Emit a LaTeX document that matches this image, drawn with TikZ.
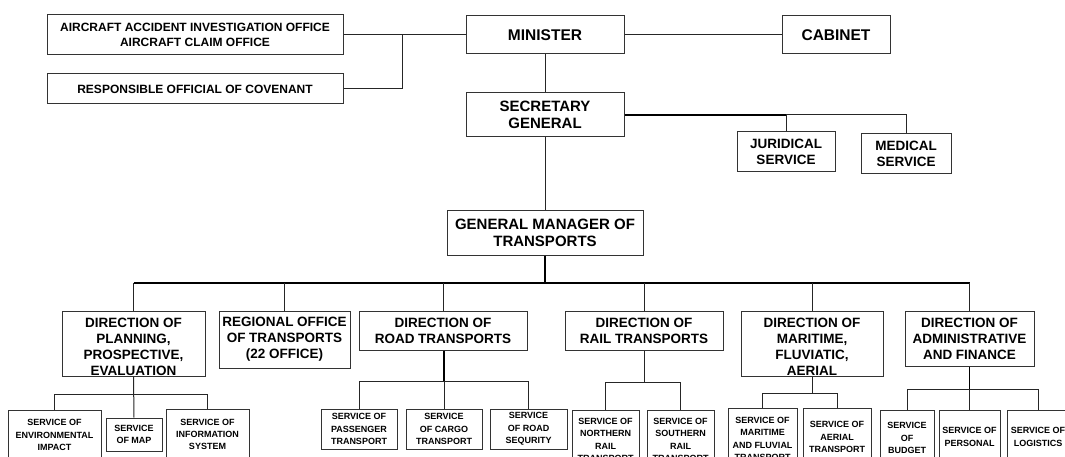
\documentclass[tikz,border=0pt]{standalone}
\usepackage{fontspec}
\setmainfont{Liberation Sans}
\usetikzlibrary{calc}

% box frame plus a separately placed text node (text may overrun the frame)
\newcommand\orgbox[8][0]{%
  \node[frame, minimum width={#5-#3}, minimum height={#6-#4}] (#2) at ({(#3+#5)/2},{(#4+#6)/2}) {};
  \node[#7] (#2-t) at ([yshift=-#1pt]#2.center) {#8};
}

% branch: bus at the level of coordinate #1, from node #2 over to node #3
\newcommand\branch[3]{%
  \draw[wire] (#2.north) -- (#2.north |- #1) -- (#3.north |- #1) -- (#3.north);
}

\begin{document}
\begin{tikzpicture}[x=1pt, y=-1pt,
  frame/.style={draw=black!80, line width=1pt, inner sep=0pt, fill=white},
  wire/.style={draw=black!85, line width=1pt},
  heavy/.style={draw=black, line width=1.7pt},
  bigtxt/.style={inner sep=0pt, align=center, font=\fontsize{15.5}{17.5}\selectfont\bfseries},
  gmtxt/.style={inner sep=0pt, align=center, font=\fontsize{15}{17.5}\selectfont\bfseries},
  midtxt/.style={inner sep=0pt, align=center, font=\fontsize{13.5}{16}\selectfont\bfseries},
  toptxt/.style={inner sep=0pt, align=center, font=\fontsize{12}{14.3}\selectfont\bfseries},
  svctxt/.style={inner sep=0pt, align=center, font=\fontsize{9}{12.3}\selectfont\bfseries}]

\fill[white] (0,0) rectangle (1065,457);
\useasboundingbox (0,0) rectangle (1065,457);
\clip (0,0) rectangle (1065,457);

% top level
\orgbox{aco}{47}{15}{343}{55}{toptxt}{AIRCRAFT ACCIDENT INVESTIGATION OFFICE\\AIRCRAFT CLAIM OFFICE}
\orgbox{resp}{47}{74}{343}{104}{toptxt}{RESPONSIBLE OFFICIAL OF COVENANT}
\orgbox{minister}{466}{16}{624}{54}{bigtxt}{MINISTER}
\orgbox{cabinet}{782}{16}{890}{54}{bigtxt}{CABINET}
\orgbox{secretary}{466}{93}{624}{137}{gmtxt}{SECRETARY\\GENERAL}
\orgbox{juridical}{737}{132}{835}{172}{midtxt}{JURIDICAL\\SERVICE}
\orgbox{medical}{861}{134}{951}{174}{midtxt}{MEDICAL\\SERVICE}
\orgbox{gm}{447}{211}{643}{255}{gmtxt}{GENERAL MANAGER OF\\TRANSPORTS}

% directions
\orgbox[3.5]{plan}{62}{311}{205}{376}{midtxt}{DIRECTION OF\\PLANNING,\\PROSPECTIVE,\\EVALUATION}
\orgbox{regional}{219}{311}{350}{368}{midtxt}{REGIONAL OFFICE\\OF TRANSPORTS\\(22 OFFICE)}
\orgbox{road}{359}{311}{527}{350}{midtxt}{DIRECTION OF\\ROAD TRANSPORTS}
\orgbox{rail}{565}{311}{723}{350}{midtxt}{DIRECTION OF\\RAIL TRANSPORTS}
\orgbox[3.5]{maritime}{741}{311}{883}{376}{midtxt}{DIRECTION OF\\MARITIME,\\FLUVIATIC,\\AERIAL}
\orgbox{admin}{905}{311}{1034}{366}{midtxt}{DIRECTION OF\\ADMINISTRATIVE\\AND FINANCE}

% services
\orgbox{env}{8}{410}{101}{460}{svctxt}{SERVICE OF\\ENVIRONMENTAL\\IMPACT}
\orgbox{map}{106}{418}{162}{451}{svctxt}{SERVICE\\OF MAP}
\orgbox{info}{166}{409}{249}{460}{svctxt}{SERVICE OF\\INFORMATION\\SYSTEM}
\orgbox{pass}{321}{409}{397}{449}{svctxt}{SERVICE OF\\PASSENGER\\TRANSPORT}
\orgbox{cargo}{406}{409}{482}{449}{svctxt}{SERVICE\\OF CARGO\\TRANSPORT}
\orgbox{secu}{490}{409}{567}{449}{svctxt}{SERVICE\\OF ROAD\\SEQURITY}
\orgbox{north}{572}{410}{639}{470}{svctxt}{SERVICE OF\\NORTHERN\\RAIL\\TRANSPORT}
\orgbox{south}{647}{410}{714}{470}{svctxt}{SERVICE OF\\SOUTHERN\\RAIL\\TRANSPORT}
\orgbox{marfl}{728}{408}{797}{470}{svctxt}{SERVICE OF\\MARITIME\\AND FLUVIAL\\TRANSPORT}
\orgbox{aerial}{803}{408}{871}{466}{svctxt}{SERVICE OF\\AERIAL\\TRANSPORT}
\orgbox{budget}{880}{410}{934}{466}{svctxt}{SERVICE\\OF\\BUDGET}
\orgbox{personal}{939}{410}{1000}{464}{svctxt}{SERVICE OF\\PERSONAL}
\orgbox{logist}{1007}{410}{1069}{464}{svctxt}{SERVICE OF\\LOGISTICS}

% connectors, top part
\coordinate (tljoin) at (402,35);
\draw[wire] (aco.east) -- (minister.west);
\draw[wire] (resp.east) -| (tljoin);
\draw[wire] (minister.east) -- (cabinet.west);
\draw[wire] (minister.south) -- (secretary.north);
\draw[heavy] (secretary.east) -- (secretary.east -| juridical.north);
\draw[wire] (secretary.east -| juridical.north) -- (juridical.north);
\draw[wire] (secretary.east -| juridical.north) -| (medical.north);
\draw[wire] (secretary.south) -- (gm.north);

% main bus to the directions
\coordinate (mainbus) at (0,283);
\draw[heavy] (gm.south) -- (gm.south |- mainbus);
\draw[heavy] (plan.north |- mainbus) -- (admin.north |- mainbus);
\foreach \d in {plan, regional, road, rail, maritime, admin}
  \draw[wire] (\d.north |- mainbus) -- (\d.north);

% planning services
\coordinate (pbus) at (0,394);
\draw[wire] (plan.south) -- (map.north);
\branch{pbus}{env}{info}

% road services
\coordinate (rbus) at (0,381);
\draw[heavy] (road.south -| cargo.north) -- (cargo.north |- rbus);
\branch{rbus}{pass}{secu}
\draw[wire] (cargo.north |- rbus) -- (cargo.north);

% rail services
\coordinate (lbus) at (0,382);
\draw[wire] (rail.south) -- (rail.south |- lbus);
\branch{lbus}{north}{south}

% maritime services
\coordinate (mbus) at (0,393);
\draw[wire] (maritime.south) -- (maritime.south |- mbus);
\branch{mbus}{marfl}{aerial}

% administrative services
\coordinate (abus) at (0,389);
\draw[heavy] (admin.south -| personal.north) -- (personal.north |- abus);
\branch{abus}{budget}{logist}
\draw[wire] (personal.north |- abus) -- (personal.north);

\end{tikzpicture}
\end{document}
